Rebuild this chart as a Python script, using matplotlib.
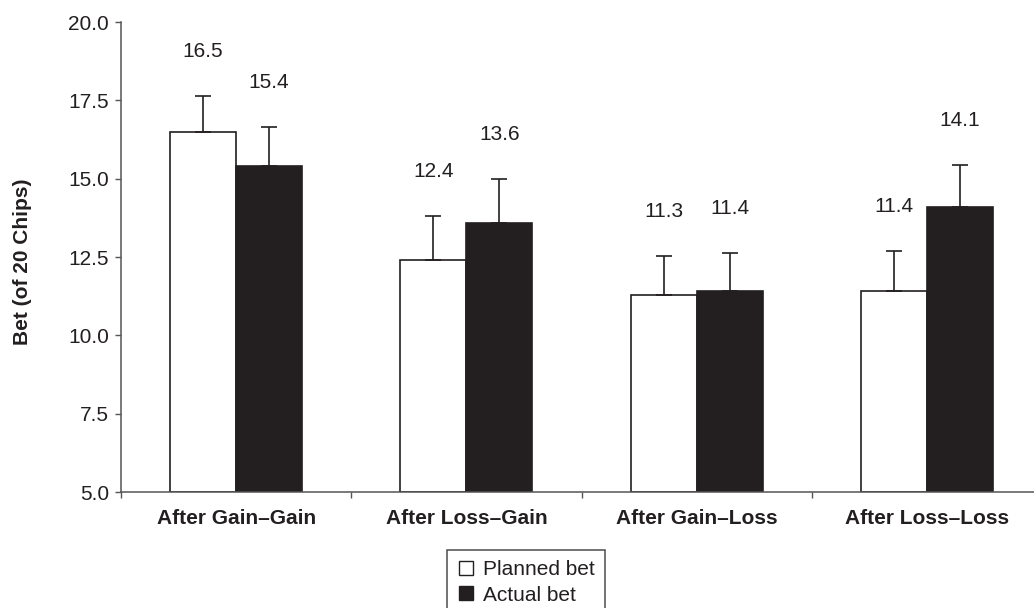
import numpy as np
import matplotlib
matplotlib.use("Agg")
import matplotlib.pyplot as plt
from matplotlib.lines import Line2D

plt.rcParams["font.family"] = ["Liberation Sans", "DejaVu Sans"]

INK = "#231f20"
FS = 15

categories = ["After Gain\u2013Gain", "After Loss\u2013Gain",
              "After Gain\u2013Loss", "After Loss\u2013Loss"]
planned = [16.5, 12.4, 11.3, 11.4]
actual = [15.4, 13.6, 11.4, 14.1]
planned_err = [1.15, 1.40, 1.22, 1.30]
actual_err = [1.25, 1.40, 1.22, 1.34]
series_names = ["Planned bet", "Actual bet"]
yticks = [5.0, 7.5, 10.0, 12.5, 15.0, 17.5, 20.0]

fig = plt.figure(figsize=(10.34, 6.08), dpi=100)
ax = fig.add_axes([121 / 1034, 1 - 492 / 608, 921 / 1034, 470 / 608])

x = np.arange(len(categories))
w = 0.287
err_kw = dict(ecolor=INK, elinewidth=1.2, capsize=5.5, capthick=1.2)

ax.bar(x - w / 2, np.array(planned) - 5, w, bottom=5, color="white",
       edgecolor=INK, linewidth=1.2, zorder=2,
       yerr=[np.zeros(4), planned_err], error_kw=err_kw)
ax.bar(x + w / 2, np.array(actual) - 5, w, bottom=5, color=INK,
       edgecolor=INK, linewidth=1.2, zorder=2,
       yerr=[np.zeros(4), actual_err], error_kw=err_kw)

# value labels sit a fixed distance above each error cap
for xs, vals, errs in [(x - w / 2, planned, planned_err),
                       (x + w / 2, actual, actual_err)]:
    for xi, v, e in zip(xs, vals, errs):
        ax.annotate(f"{v:.1f}", (xi, v + e), xytext=(0, 32),
                    textcoords="offset points", ha="center", va="center",
                    fontsize=FS, color=INK)

ax.set_xlim(-0.5, 3.5)
ax.set_ylim(5, 20)
ax.set_yticks(yticks)
ax.set_yticklabels([f"{t:.1f}" for t in yticks])
ax.tick_params(axis="y", length=4.5, width=1, color="#555555",
               labelsize=FS, labelcolor=INK, pad=4)

ax.set_xticks(np.arange(-0.5, 4, 1.0))
ax.set_xticklabels([])
ax.tick_params(axis="x", which="major", length=4, width=1, color="#555555")
ax.set_xticks(x, minor=True)
ax.set_xticklabels(categories, minor=True, fontweight="bold", fontsize=FS,
                   color=INK)
ax.tick_params(axis="x", which="minor", length=0, pad=12)

for side in ["top", "right"]:
    ax.spines[side].set_visible(False)
for side in ["left", "bottom"]:
    ax.spines[side].set_color("#555555")
    ax.spines[side].set_linewidth(1.1)

ax.set_ylabel("Bet (of 20 Chips)", fontsize=FS, fontweight="bold", color=INK)
ax.yaxis.set_label_coords(-0.097, 0.49)

handles = [
    Line2D([], [], marker="s", linestyle="none", markersize=10,
           markerfacecolor="white", markeredgecolor=INK, markeredgewidth=1),
    Line2D([], [], marker="s", linestyle="none", markersize=10,
           markerfacecolor=INK, markeredgecolor=INK),
]
leg = fig.legend(handles, series_names, loc="upper center",
                 bbox_to_anchor=(526 / 1034, 1 - 550 / 608), fontsize=FS,
                 frameon=True, fancybox=False, edgecolor=INK,
                 handlelength=0.8, handletextpad=0.4, borderpad=0.5,
                 labelspacing=0.3, borderaxespad=0)
leg.get_frame().set_linewidth(1.1)
for t in leg.get_texts():
    t.set_color(INK)

fig.savefig("out.png", dpi=100)
